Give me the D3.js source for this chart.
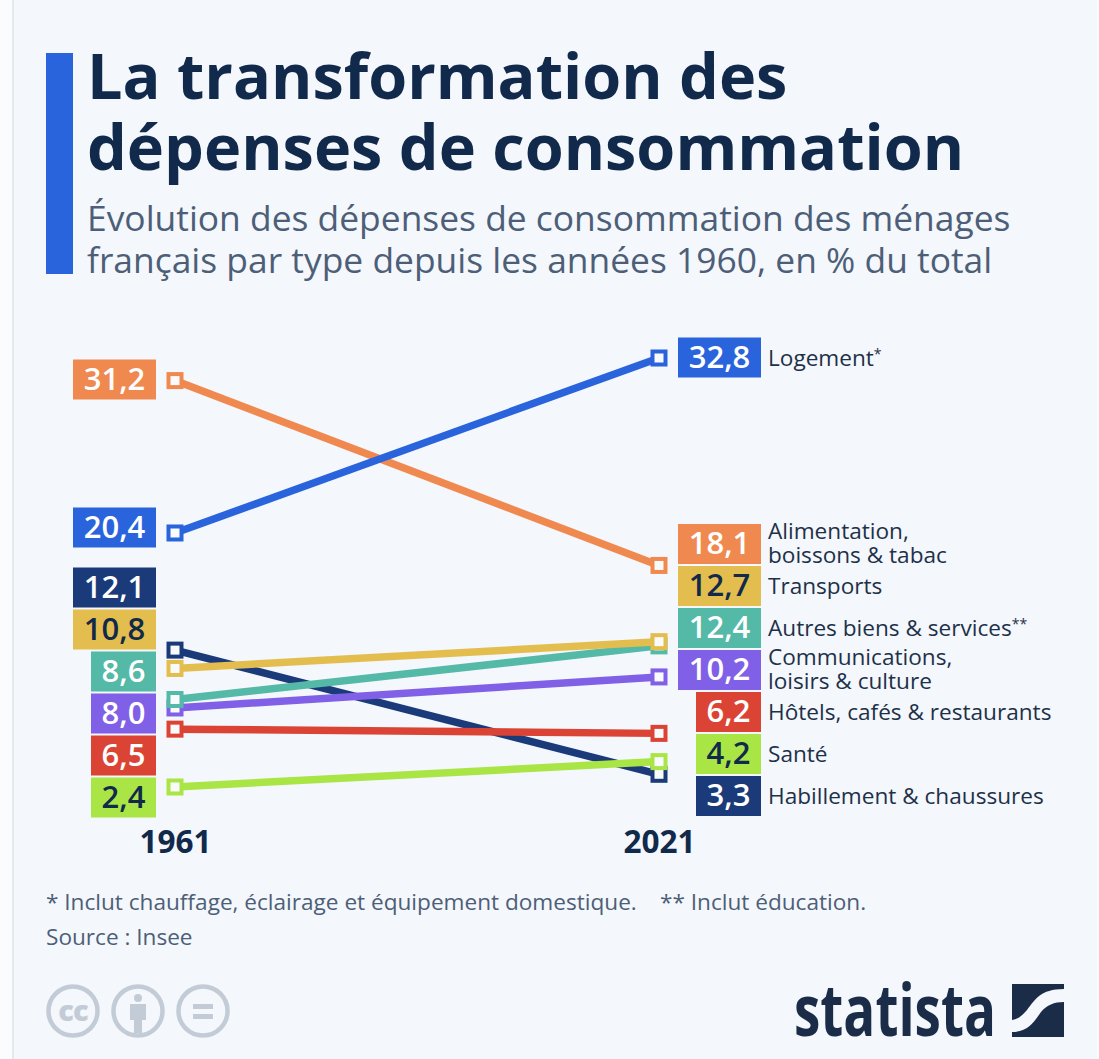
<!DOCTYPE html>
<html>
<head>
<meta charset="utf-8">
<script src="https://cdn.jsdelivr.net/npm/d3@7"></script>
<style>
  html, body { margin: 0; padding: 0; background: #fbfcfd; }
  svg { display: block; font-family: "Open Sans", sans-serif; }
</style>
</head>
<body>
<svg id="chart" width="1099" height="1059"></svg>
<script>
const years = ["1961", "2021"];
const categories = ["Logement", "Alimentation, boissons & tabac", "Transports", "Autres biens & services",
  "Communications, loisirs & culture", "Hôtels, cafés & restaurants", "Santé", "Habillement & chaussures"];
const values1961 = [20.4, 31.2, 10.8, 8.6, 8.0, 6.5, 2.4, 12.1];
const values2021 = [32.8, 18.1, 12.7, 12.4, 10.2, 6.2, 4.2, 3.3];
const legendLines = [["Logement"], ["Alimentation,", "boissons & tabac"], ["Transports"], ["Autres biens & services"],
  ["Communications,", "loisirs & culture"], ["Hôtels, cafés & restaurants"], ["Santé"], ["Habillement & chaussures"]];
const legendMarks = ["*", "", "", "**", "", "", "", ""];
const colors = ["#2a64dc", "#f0894f", "#e3be4e", "#55b9a8", "#8060e6", "#db4435", "#a9e544", "#1a3a7a"];
const darkText = [false, false, true, false, false, false, true, false];

// label boxes don't sit on the points, they are stacked so they don't collide
const leftBoxCenter = [527.5, 379.5, 629.5, 671.5, 713.5, 755.5, 797.5, 587.5];
const rightBoxCenter = [357.5, 544, 586, 628, 670, 712, 754, 796];
// navy lowest, blue over orange, yellow over teal over purple, lime on top
const drawOrder = [7, 1, 0, 4, 3, 2, 5, 6];

const navy = "#11294a", grey = "#4d5f78", bg = "#f4f7fb";
const frOne = d3.format(".1f");
const fr = v => frOne(v).replace(".", ",");

const svg = d3.select("#chart");

// card background
svg.append("rect").attr("x", 0).attr("y", 0).attr("width", 1099).attr("height", 1059).attr("fill", "#fbfcfd");
svg.append("rect").attr("x", 12).attr("y", 0).attr("width", 2).attr("height", 1059).attr("fill", "#e6e9ec");
svg.append("rect").attr("x", 14).attr("y", 0).attr("width", 1083).attr("height", 1059).attr("fill", bg);

// header
svg.append("rect").attr("x", 46).attr("y", 53).attr("width", 27).attr("height", 221).attr("fill", "#2a64dc");
const title = svg.append("g").attr("font-weight", 700).attr("font-size", 63).attr("fill", navy);
title.append("text").attr("x", 87).attr("y", 99).text("La transformation des");
title.append("text").attr("x", 87).attr("y", 170).text("dépenses de consommation");
const sub = svg.append("g").attr("font-size", 35.4).attr("fill", grey);
sub.append("text").attr("x", 87).attr("y", 231).text("Évolution des dépenses de consommation des ménages");
sub.append("text").attr("x", 87).attr("y", 273).text("français par type depuis les années 1960, en % du total");

// scales
const x = d3.scalePoint().domain(years).range([175, 659]);
const y = d3.scaleLinear().domain([2.4, 32.8]).range([787, 358]);

// slope lines
const rows = categories.map((name, i) => ({ i, name, a: values1961[i], b: values2021[i] }));
const ordered = drawOrder.map(i => rows[i]);
const line = d3.line().x(d => x(d.year)).y(d => y(d.value));

const marks = svg.append("g").selectAll("g").data(ordered).join("g");
marks.append("path")
  .attr("d", d => line([{ year: years[0], value: d.a }, { year: years[1], value: d.b }]))
  .attr("fill", "none").attr("stroke", d => colors[d.i]).attr("stroke-width", 7.5);
marks.selectAll("rect")
  .data(d => [{ year: years[0], value: d.a, i: d.i }, { year: years[1], value: d.b, i: d.i }])
  .join("rect")
  .attr("x", d => x(d.year) - 6.5).attr("y", d => y(d.value) - 6.5)
  .attr("width", 13).attr("height", 13)
  .attr("fill", "#f8fafc").attr("stroke", d => colors[d.i]).attr("stroke-width", 4);

// value boxes
function valueBoxes(vals, centers, right) {
  const g = svg.append("g").selectAll("g").data(vals.map((v, i) => ({ v, i }))).join("g");
  const w = d => d.v >= 10 ? 83 : 65;
  g.append("rect")
    .attr("x", d => right - w(d)).attr("y", d => centers[d.i] - 20)
    .attr("width", w).attr("height", 40)
    .attr("fill", d => colors[d.i]);
  g.append("text")
    .attr("x", d => right - w(d) / 2).attr("y", d => centers[d.i] + 10)
    .attr("text-anchor", "middle").attr("font-size", 31).attr("font-weight", 600)
    .attr("fill", d => darkText[d.i] ? navy : "#fff")
    .text(d => fr(d.v));
}
valueBoxes(values1961, leftBoxCenter, 156);
valueBoxes(values2021, rightBoxCenter, 761);

// category names, two-liners are separate text elements
const nameG = svg.append("g").attr("font-size", 22.6).attr("fill", "#1d3149");
legendLines.forEach((lines, i) => {
  lines.forEach((txt, k) => {
    const t = nameG.append("text").attr("x", 768)
      .attr("y", rightBoxCenter[i] + (lines.length > 1 ? -5.5 + k * 24.5 : 8))
      .text(txt);
    if (legendMarks[i]) {
      t.append("tspan").attr("font-size", 14).attr("dy", -7).text(legendMarks[i]);
    }
  });
});

// years
const axis = svg.append("g").attr("transform", "translate(0,853)")
  .call(d3.axisBottom(x).tickSize(0).tickPadding(0));
axis.select(".domain").remove();
axis.selectAll("text").attr("font-family", "Open Sans").attr("font-size", 31.5).attr("font-weight", 700)
  .attr("fill", navy).attr("dy", 0).attr("y", 0);

// footnotes
const foot = svg.append("g").attr("font-size", 22.6).attr("fill", grey);
foot.append("text").attr("x", 46).attr("y", 910).text("* Inclut chauffage, éclairage et équipement domestique.");
foot.append("text").attr("x", 660).attr("y", 910).text("** Inclut éducation.");
foot.append("text").attr("x", 46).attr("y", 945).text("Source : Insee");

// licence icons
const iconC = "#c3ccd6";
[73, 138, 203].forEach(cx => {
  svg.append("circle").attr("cx", cx).attr("cy", 1011).attr("r", 24.5).attr("fill", "none")
    .attr("stroke", iconC).attr("stroke-width", 4.5);
});
svg.append("text").attr("x", 73).attr("y", 1021).attr("text-anchor", "middle").attr("font-size", 29)
  .attr("font-weight", 800).attr("fill", iconC).attr("letter-spacing", -1).text("cc");
svg.append("circle").attr("cx", 138).attr("cy", 998).attr("r", 4).attr("fill", iconC);
svg.append("path").attr("fill", iconC)
  .attr("d", "M130 1004h16v16h-4v13h-8v-13h-4z");
svg.append("rect").attr("x", 193).attr("y", 1004).attr("width", 20).attr("height", 5).attr("fill", iconC);
svg.append("rect").attr("x", 193).attr("y", 1014).attr("width", 20).attr("height", 5).attr("fill", iconC);

// logo
svg.append("text").attr("x", 794).attr("y", 1036).attr("font-size", 72).attr("font-weight", 700)
  .attr("fill", "#1a2c48").attr("textLength", 202).attr("lengthAdjust", "spacingAndGlyphs").text("statista");
svg.append("path").attr("fill", "#1a2c48")
  .attr("d", "M1012 984H1064V989C1040 989 1035 1000 1027 1010C1022 1016 1018 1019 1012 1020Z" +
    "M1064 1002V1037H1012V1032C1028 1032 1034 1022 1041 1012C1047 1005 1054 1002 1064 1002Z");
</script>
</body>
</html>
